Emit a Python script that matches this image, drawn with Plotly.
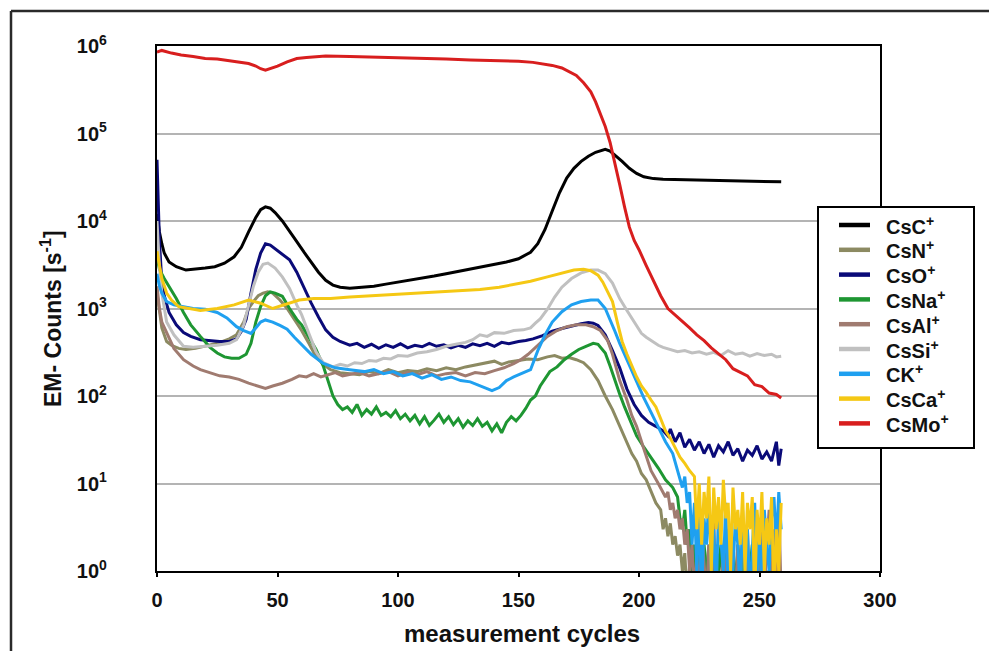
import plotly.graph_objects as go

# ---------------- data (cycle, counts per second) ----------------
series_names = ["CsC<sup>+</sup>", "CsN<sup>+</sup>", "CsO<sup>+</sup>", "CsNa<sup>+</sup>",
                "CsAl<sup>+</sup>", "CsSi<sup>+</sup>", "CK<sup>+</sup>", "CsCa<sup>+</sup>",
                "CsMo<sup>+</sup>"]
series_colors = ["#000000", "#8c8a62", "#0a0a78", "#1e9632", "#a07b70",
                 "#c0c0c0", "#1fa0f0", "#f5c814", "#d81e1e"]

csc = [(0,12000),(1,7500),(2,5500),(3,4300),(5,3400),(8,3000),(12,2750),(16,2800),(20,2900),(24,3000),
       (28,3300),(32,3900),(35,5000),(38,7500),(41,11000),(43,13500),(45,14500),(47,14000),(49,12500),
       (52,10000),(55,7500),(58,5800),(61,4400),(64,3400),(67,2600),(70,2100),(73,1850),(76,1750),
       (80,1700),(85,1750),(90,1800),(95,1900),(100,2000),(105,2100),(110,2250),(115,2350),(120,2500),
       (125,2650),(130,2800),(135,3000),(140,3200),(145,3400),(150,3700),(155,4400),(158,5500),(161,8000),
       (164,13000),(167,21000),(170,31000),(173,40000),(176,48000),(179,55000),(182,61000),(184,64000),
       (186,66000),(188,63000),(190,57000),(193,48000),(196,40000),(199,35000),(202,32000),(206,30500),
       (210,30000),(220,29500),(230,29500),(240,29000),(250,28500),(259,28000)]

csn = [(0,1500),(1,900),(2,600),(4,420),(6,380),(9,350),(12,340),(16,350),(20,370),(25,400),(30,450),
       (33,500),(36,700),(38,1000),(40,1200),(42,1400),(44,1500),(46,1550),(48,1500),(51,1250),(54,1000),
       (57,750),(60,560),(63,400),(66,280),(69,230),(72,200),(76,185),(80,180),(84,175),(88,190),(92,180),
       (96,200),(100,185),(104,195),(108,190),(112,205),(116,195),(120,210),(124,200),(128,215),(132,225),
       (136,235),(140,250),(143,230),(146,245),(150,255),(154,265),(158,260),(162,280),(165,290),(168,270),
       (171,275),(174,260),(177,240),(180,200),(183,150),(186,100),(189,70),(192,45),(195,30),(197,22),
       (199,18),(201,13),(203,11),(205,8),(207,6),(209,5),(210,3),(211,4),(212,2.5),(213,3.5),(214,2),
       (215,2.5),(216,1.5),(217,2),(218,1),(219,1.6),(220,0.5),(221,1.2),(222,0.5),(223,1),(224,0.5),
       (226,1),(227,0.5),(229,2),(230,0.5),(233,1),(234,0.5),(238,1),(239,0.5),(243,2),(244,0.5),
       (248,1),(249,0.5),(253,1),(254,0.5),(259,0.5)]

cso = [(0,50000),(1,6000),(2,2000),(3,1400),(5,900),(8,650),(11,530),(14,480),(18,440),(22,430),(26,420),
       (30,420),(33,450),(35,550),(37,750),(39,1500),(41,2800),(43,4300),(45,5500),(47,5300),(50,4600),
       (53,4000),(55,3600),(58,2600),(61,1700),(64,1150),(67,800),(70,570),(73,470),(76,420),(80,380),
       (83,400),(86,360),(89,390),(92,350),(95,385),(98,360),(101,395),(104,355),(107,380),(110,365),
       (113,400),(116,370),(119,385),(122,355),(125,380),(128,360),(131,395),(134,375),(137,400),(140,370),
       (143,410),(146,395),(150,420),(153,430),(156,450),(160,490),(164,550),(168,590),(172,630),(176,670),
       (179,690),(181,680),(183,640),(186,500),(189,330),(192,210),(195,120),(198,80),(201,60),(204,50),
       (207,45),(210,40),(212,35),(213,42),(215,30),(217,38),(219,26),(221,32),(223,24),(225,30),(227,22),
       (229,28),(231,20),(233,27),(235,23),(237,30),(239,21),(241,25),(243,18),(245,24),(247,21),(249,27),
       (251,19),(253,23),(255,18),(257,30),(258,16),(259,25)]

csna = [(0,4000),(1,2800),(3,2200),(5,1800),(8,1300),(11,900),(14,650),(18,480),(22,360),(25,310),(28,280),
        (31,270),(34,270),(37,300),(39,400),(41,700),(43,1050),(45,1400),(47,1550),(49,1500),(52,1380),
        (55,1000),(58,750),(60,650),(63,470),(66,340),(69,220),(71,150),(73,100),(75,80),(77,70),(79,75),
        (81,65),(83,80),(85,60),(87,70),(89,62),(91,75),(93,60),(95,65),(97,58),(99,68),(101,55),(103,62),
        (105,52),(107,60),(109,48),(111,58),(113,46),(115,53),(117,62),(119,50),(121,58),(123,47),(125,55),
        (127,44),(129,52),(131,46),(133,55),(135,45),(137,50),(139,40),(141,48),(143,38),(145,50),(147,58),
        (149,52),(151,60),(153,72),(155,90),(157,100),(159,130),(161,160),(163,190),(166,215),(169,260),
        (172,300),(175,340),(178,370),(181,400),(183,390),(186,310),(188,220),(190,150),(192,105),(194,75),
        (196,55),(199,35),(202,26),(205,20),(208,15),(211,11),(214,9),(216,7),(217,4),(218,3),(219,5),
        (220,2),(221,3),(222,1),(223,2),(224,0.5),(225,2),(226,0.5),(227,2),(228,1),(229,0.5),(230,2),
        (231,0.5),(232,2),(233,1),(234,2),(235,0.5),(236,2),(237,1),(238,0.5),(239,2),(240,0.5),(241,2),
        (242,1),(243,0.5),(244,2),(245,0.5),(246,1),(247,2),(248,0.5),(249,1),(250,0.5),(251,2),(252,0.5),
        (253,1),(254,0.5),(256,1),(257,0.5),(259,0.5)]

csal = [(0,1800),(1,1000),(2,700),(4,520),(7,350),(11,260),(15,220),(18,200),(22,185),(26,170),(30,165),
        (34,155),(38,140),(42,130),(45,122),(48,130),(52,140),(56,155),(59,170),(62,165),(65,180),(68,165),
        (71,175),(74,185),(77,170),(80,175),(84,185),(88,170),(92,180),(96,190),(100,170),(104,185),
        (108,175),(112,190),(116,170),(120,180),(124,185),(128,170),(132,185),(136,180),(140,195),(144,210),
        (148,235),(151,260),(154,300),(158,380),(162,480),(166,560),(170,620),(174,650),(178,650),(181,620),
        (184,560),(187,430),(189,300),(192,150),(195,90),(197,60),(199,45),(202,25),(205,14),(208,10),
        (211,7),(212,8),(213,5),(214,6),(215,4),(216,5),(217,3),(218,4),(219,2),(220,3),(221,1),(222,2),
        (223,0.5),(224,1.5),(225,0.5),(226,3),(227,1),(228,0.5),(229,2),(230,0.5),(231,4),(232,0.5),
        (233,1),(234,0.5),(235,2),(236,0.5),(237,3),(238,0.5),(239,1),(240,0.5),(241,2),(242,0.5),(243,1),
        (244,0.5),(245,3),(246,0.5),(247,1),(248,2),(249,0.5),(250,1),(251,4),(252,0.5),(253,2),(254,5),
        (255,0.5),(256,3),(257,0.5),(258,6),(259,0.5)]

cssi = [(0,10000),(1,3000),(2,1500),(4,700),(7,500),(11,370),(15,360),(20,370),(25,380),(30,400),(33,440),
        (36,650),(38,1100),(40,1800),(42,2600),(44,3200),(46,3300),(49,2900),(52,2300),(55,1700),(58,1100),
        (60,850),(63,520),(66,320),(69,240),(73,215),(76,230),(79,220),(82,240),(85,235),(88,255),(91,250),
        (94,270),(97,265),(100,290),(104,285),(108,310),(112,320),(116,340),(120,370),(124,390),(128,410),
        (131,440),(134,500),(137,480),(140,530),(144,520),(148,560),(152,570),(155,600),(157,680),(159,760),
        (162,980),(165,1350),(168,1750),(172,2200),(176,2550),(180,2750),(183,2750),(186,2500),(189,1950),
        (192,1300),(195,950),(198,700),(201,520),(203,470),(205,430),(208,380),(210,360),(213,340),
        (216,320),(219,330),(222,310),(225,320),(228,300),(231,315),(234,290),(237,330),(240,300),(243,310),
        (246,285),(249,305),(252,290),(255,300),(257,280),(259,285)]

ck = [(0,2500),(1,1800),(2,1500),(4,1200),(7,1100),(11,1050),(15,1000),(20,980),(25,900),(29,780),(33,620),
      (36,560),(39,520),(41,600),(43,700),(45,740),(48,700),(51,640),(54,580),(57,470),(60,390),(64,300),
      (69,235),(74,210),(80,200),(86,190),(90,200),(94,180),(98,190),(102,170),(106,180),(110,160),
      (114,175),(118,155),(122,165),(126,150),(130,145),(133,135),(136,125),(139,115),(142,125),(145,150),
      (148,165),(152,185),(155,200),(158,330),(161,500),(164,700),(168,920),(172,1100),(176,1200),
      (180,1250),(183,1250),(186,1000),(188,750),(190,550),(192,400),(194,300),(196,220),(199,140),
      (202,95),(205,65),(208,45),(211,30),(214,22),(216,14),(218,9),(219,12),(220,6),(221,8),(222,2),
      (223,6),(224,1),(225,5),(226,0.5),(227,4),(228,2),(229,7),(230,1),(231,3),(232,0.5),(233,5),(234,2),
      (235,1),(236,6),(237,0.5),(238,3),(239,1),(240,4),(241,2),(242,0.5),(243,5),(244,1),(245,3),
      (246,0.5),(247,2),(248,6),(249,1),(250,3),(251,0.5),(252,5),(253,2),(254,1),(255,4),(256,7),(257,2),
      (258,8),(259,3)]

csca = [(0,4500),(1,3200),(2,2200),(4,1500),(6,1250),(9,1050),(13,1000),(18,950),(25,1000),(32,1100),
        (38,1250),(43,1150),(48,1000),(53,1100),(59,1250),(65,1300),(72,1300),(80,1350),(90,1400),
        (100,1450),(108,1480),(118,1550),(128,1600),(134,1650),(142,1750),(150,1950),(155,2050),(162,2300),
        (168,2550),(173,2750),(177,2800),(180,2700),(183,2400),(185,2000),(187,1550),(189,1200),(191,700),
        (193,420),(195,300),(197,220),(199,166),(201,130),(203,110),(205,90),(207,75),(209,55),(211,40),
        (213,33),(215,26),(217,20),(219,17),(221,14),(223,12),(224,3),(225,10),(226,2),(227,8),(228,4),
        (229,12),(230,1),(231,9),(232,3),(233,7),(234,2),(235,11),(236,4),(237,6),(238,1),(239,9),(240,3),
        (241,5),(242,2),(243,8),(244,1),(245,6),(246,3),(247,7),(248,0.5),(249,5),(250,2),(251,8),(252,1),
        (253,4),(254,2),(255,7),(256,0.5),(257,3),(258,1),(259,6)]

csmo = [(0,850000),(2,890000),(6,830000),(10,790000),(15,760000),(20,720000),(25,710000),(30,680000),
        (35,650000),(38,630000),(41,590000),(43,550000),(45,530000),(47,550000),(50,590000),(54,660000),
        (58,720000),(62,740000),(66,760000),(70,770000),(80,760000),(90,750000),(100,730000),(110,720000),
        (120,710000),(130,690000),(140,680000),(150,670000),(156,650000),(160,630000),(164,600000),
        (168,560000),(171,510000),(174,460000),(177,380000),(180,300000),(182,230000),(184,170000),
        (186,120000),(188,79000),(190,47000),(192,26000),(194,14500),(196,8500),(198,6000),(200,4700),
        (203,3100),(206,2100),(209,1400),(212,1000),(215,850),(218,720),(221,600),(224,500),(227,430),
        (230,355),(233,300),(236,260),(239,205),(242,185),(245,170),(248,135),(251,128),(254,108),
        (257,104),(259,95)]

all_series = [csc, csn, cso, csna, csal, cssi, ck, csca, csmo]

y_tickvals = [1, 10, 100, 1000, 10000, 100000, 1000000]
y_ticktext = ["10<sup>0</sup>", "10<sup>1</sup>", "10<sup>2</sup>", "10<sup>3</sup>",
              "10<sup>4</sup>", "10<sup>5</sup>", "10<sup>6</sup>"]
x_tickvals = [0, 50, 100, 150, 200, 250, 300]

x_title = "measurement cycles"
y_title = "EM- Counts [s<sup>-1</sup>]"

# ---------------- layout geometry (pixels) ----------------
W, H = 989, 651
PL, PR, PT, PB = 157, 880, 46, 571
FONT = "Liberation Sans, Arial, Helvetica, sans-serif"


def px(xp):
    return (xp - PL) / (PR - PL)


def py(yp):
    return (PB - yp) / (PB - PT)


fig = go.Figure()
for name, color, data in zip(series_names, series_colors, all_series):
    xs = [p[0] for p in data]
    ys = [p[1] for p in data]
    fig.add_trace(go.Scatter(x=xs, y=ys, mode="lines", name=name,
                             line=dict(color=color, width=3), showlegend=False))

shapes = []
annotations = []

# outer figure frame (only top and left edges fall inside the page)
shapes.append(dict(type="line", xref="paper", yref="paper",
                   x0=px(11), x1=px(989), y0=py(11), y1=py(11),
                   line=dict(color="#2a2a2a", width=2.5), layer="above"))
shapes.append(dict(type="line", xref="paper", yref="paper",
                   x0=px(11), x1=px(11), y0=py(11), y1=py(651),
                   line=dict(color="#2a2a2a", width=2.5), layer="above"))

# legend box (manual)
LX0, LX1, LY0, LY1 = 818, 974, 207, 448
shapes.append(dict(type="rect", xref="paper", yref="paper",
                   x0=px(LX0), x1=px(LX1), y0=py(LY1), y1=py(LY0),
                   line=dict(color="#000000", width=2), fillcolor="white", layer="above"))
for i, (name, color) in enumerate(zip(series_names, series_colors)):
    yc = 225 + i * 24.8
    shapes.append(dict(type="line", xref="paper", yref="paper",
                       x0=px(839), x1=px(870), y0=py(yc), y1=py(yc),
                       line=dict(color=color, width=4.5), layer="above"))
    annotations.append(dict(xref="paper", yref="paper", x=px(884), y=py(yc),
                            text=name, showarrow=False, xanchor="left", yanchor="middle",
                            font=dict(family=FONT, size=20, color="#111111", weight="bold")))

# axis titles
annotations.append(dict(xref="paper", yref="paper", x=px(522), y=py(633), text=x_title,
                        showarrow=False, xanchor="center", yanchor="middle",
                        font=dict(family=FONT, size=24, color="#111111", weight="bold")))
annotations.append(dict(xref="paper", yref="paper", x=px(51), y=py(319), text=y_title,
                        showarrow=False, xanchor="center", yanchor="middle", textangle=-90,
                        font=dict(family=FONT, size=23, color="#111111", weight="bold")))

fig.update_layout(
    width=W, height=H,
    margin=dict(l=PL, r=W - PR, t=PT, b=H - PB, pad=0),
    paper_bgcolor="white", plot_bgcolor="white",
    showlegend=False,
    shapes=shapes, annotations=annotations,
    font=dict(family=FONT, size=20, color="#111111", weight="bold"),
)
fig.update_xaxes(range=[0, 300], tickvals=x_tickvals, showgrid=False, zeroline=False,
                 showline=True, linecolor="#000000", linewidth=2.2, mirror=True,
                 ticks="outside", ticklen=4, tickwidth=1.5, tickcolor="#000000",
                 ticklabelstandoff=6,
                 tickfont=dict(family=FONT, size=20, color="#111111", weight="bold"))
fig.update_yaxes(type="log", range=[0, 6], tickvals=y_tickvals, ticktext=y_ticktext,
                 showgrid=True, gridcolor="#b4b4b4", gridwidth=1.5, zeroline=False,
                 showline=True, linecolor="#000000", linewidth=2.2, mirror=True,
                 ticks="", ticklabelstandoff=44,
                 tickfont=dict(family=FONT, size=20, color="#111111", weight="bold"))

fig.write_html("out.html")
